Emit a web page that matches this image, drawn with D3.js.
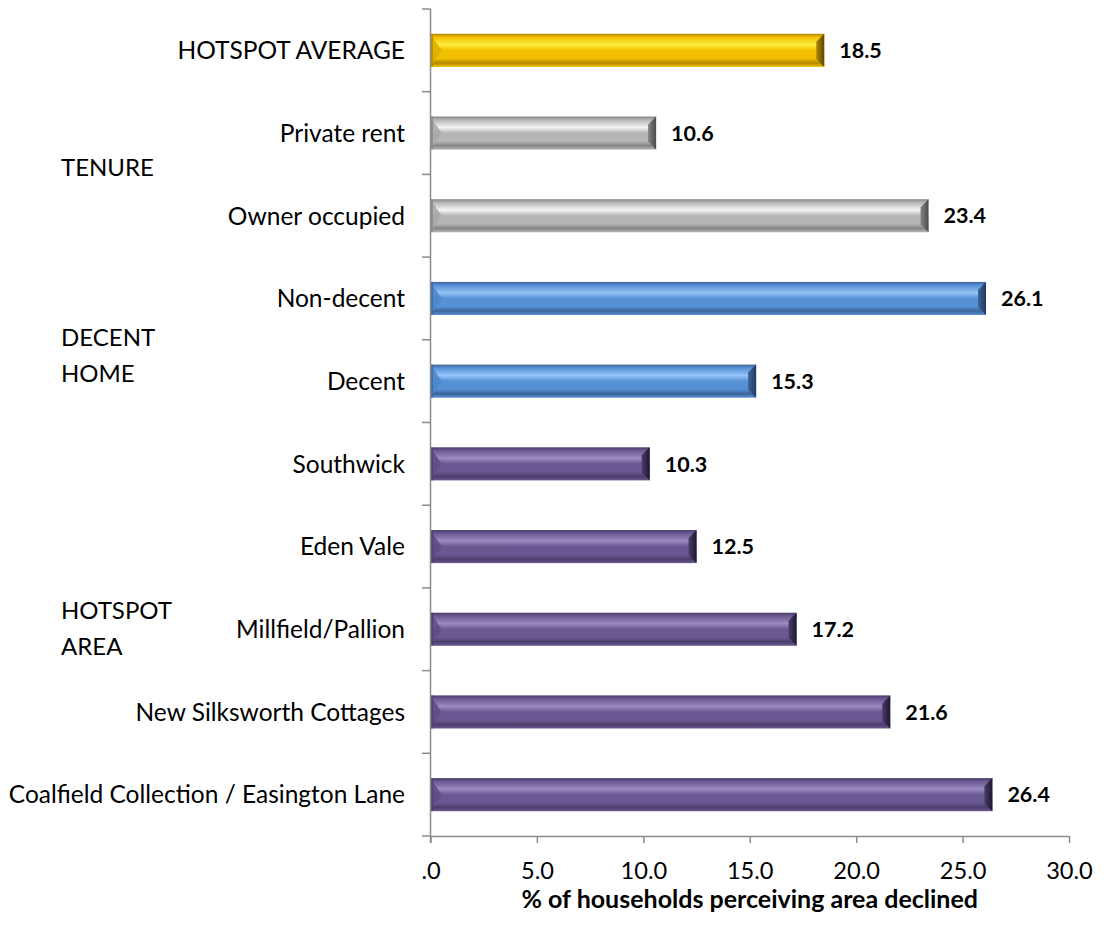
<!DOCTYPE html>
<html><head><meta charset="utf-8">
<script src="https://cdn.jsdelivr.net/npm/d3@7"></script>
<style>body{margin:0;background:#fff;}svg{display:block;}</style>
</head><body>
<script>
const categories = ["HOTSPOT AVERAGE","Private rent","Owner occupied","Non-decent","Decent","Southwick","Eden Vale","Millfield/Pallion","New Silksworth Cottages","Coalfield Collection / Easington Lane"];
const values = [18.5,10.6,23.4,26.1,15.3,10.3,12.5,17.2,21.6,26.4];
const groups = ["avg","tenure","tenure","decent","decent","area","area","area","area","area"];
const xTicks = [0,5,10,15,20,25,30];
const groupLabels = [
  {lines:["TENURE"], baseline:[176]},
  {lines:["DECENT","HOME"], baseline:[346,382]},
  {lines:["HOTSPOT","AREA"], baseline:[619,655]}
];
const xTitle = "% of households perceiving area declined";

(function(){
const FONT="Lato, 'Open Sans', sans-serif";
const W=1104,H=927;
const svg=d3.select("body").append("svg").attr("width",W).attr("height",H);
const yTop=9,yBottom=836;
const x=d3.scaleLinear().domain([0,30]).range([430.5,1069]);
const y=d3.scaleBand().domain(categories).range([yTop,yBottom]).paddingInner(0.6).paddingOuter(0.3);

const palette={
  avg:{base:"#F2C000",light:"#FFEE40",dark:"#B08800",edge:"#5E4600",lb:"#E0AE00"},
  tenure:{base:"#B5B5B5",light:"#F4F4F4",dark:"#858585",edge:"#4A4A4A",lb:"#A8A8A8"},
  decent:{base:"#5690D5",light:"#95C4F6",dark:"#3E6499",edge:"#1F3A62",lb:"#4C86CC"},
  area:{base:"#6A5892",light:"#9C8AC2",dark:"#4A3D6A",edge:"#1E1630",lb:"#5E4D86"}
};
const defs=svg.append("defs");
Object.entries(palette).forEach(([k,c])=>{
  const g=defs.append("linearGradient").attr("id","g-"+k).attr("x1",0).attr("y1",0).attr("x2",0).attr("y2",1);
  [[0,c.dark],[0.1,c.base],[0.33,c.light],[0.5,c.base],[0.75,c.base],[0.88,c.dark],[1,c.base]].forEach(([o,col])=>g.append("stop").attr("offset",o).attr("stop-color",col));
  const r=defs.append("linearGradient").attr("id","r-"+k).attr("x1",0).attr("y1",0).attr("x2",1).attr("y2",0);
  r.append("stop").attr("offset",0).attr("stop-color",c.dark);
  r.append("stop").attr("offset",1).attr("stop-color",c.edge);
});

const bh=y.bandwidth();
const bars=svg.append("g").selectAll("g").data(categories).join("g");
bars.append("rect").attr("x",x(0)).attr("y",d=>y(d)).attr("width",(d,i)=>x(values[i])-x(0)).attr("height",bh)
  .attr("fill",(d,i)=>`url(#g-${groups[i]})`);
// right bevel
bars.append("path").attr("d",(d,i)=>{const x1=x(values[i]),y0=y(d),b=8;return `M${x1-b},${y0+b}L${x1},${y0}L${x1},${y0+bh}L${x1-b},${y0+bh-b}Z`;})
  .attr("fill",(d,i)=>`url(#r-${groups[i]})`);
// left bevel
bars.append("path").attr("d",(d,i)=>{const x0=x(0),y0=y(d),b=11;return `M${x0},${y0}L${x0+b},${y0+bh/2}L${x0},${y0+bh}Z`;})
  .attr("fill",(d,i)=>palette[groups[i]].lb).attr("opacity",0.9);
bars.append("rect").attr("x",x(0)).attr("y",d=>y(d)).attr("width",2.5).attr("height",bh)
  .attr("fill",(d,i)=>palette[groups[i]].dark).attr("opacity",0.7);
bars.append("text").attr("x",(d,i)=>x(values[i])+15).attr("y",d=>y(d)+bh/2).attr("dy","0.36em")
  .attr("font-family",FONT).attr("font-weight","bold").attr("font-size",21.5).attr("fill","#000")
  .text((d,i)=>values[i].toFixed(1));

// y axis
const AX="#8C8C8C";
const yAxis=svg.append("g");
yAxis.append("line").attr("x1",x(0)).attr("x2",x(0)).attr("y1",yTop).attr("y2",yBottom+7).attr("stroke",AX).attr("stroke-width",1.5);
const step=(yBottom-yTop)/categories.length;
const bounds=d3.range(categories.length+1).map(i=>yTop+i*step);
yAxis.selectAll("line.t").data(bounds).join("line").attr("class","t").attr("x1",x(0)-8.5).attr("x2",x(0)).attr("y1",d=>d).attr("y2",d=>d).attr("stroke",AX).attr("stroke-width",1.5);
yAxis.selectAll("text").data(categories).join("text").attr("x",405).attr("y",d=>y(d)+bh/2).attr("dy","0.36em").attr("text-anchor","end")
  .attr("font-family",FONT).attr("font-size",24.5).attr("fill","#000").text(d=>d);

// x axis
const xAxis=svg.append("g").attr("transform",`translate(0,${yBottom})`).call(d3.axisBottom(x).tickValues(xTicks).tickSize(7).tickSizeOuter(0).tickFormat(d=>d===0?".0":d3.format(".1f")(d)));
xAxis.select(".domain").attr("stroke",AX).attr("stroke-width",1.5);
xAxis.selectAll(".tick line").attr("stroke",AX).attr("stroke-width",1.5);
xAxis.selectAll(".tick text").attr("font-family",FONT).attr("font-size",23.6).attr("fill","#000").attr("y",43).attr("dy",0);
svg.append("text").attr("x",x(15)).attr("y",908).attr("text-anchor","middle").attr("font-family",FONT)
  .attr("font-weight","bold").attr("font-size",25).attr("fill","#000").text(xTitle);

// group labels
groupLabels.forEach(g=>{
  g.lines.forEach((t,j)=>svg.append("text").attr("x",61).attr("y",g.baseline[j])
    .attr("font-family",FONT).attr("font-size",24).attr("fill","#000").text(t));
});
})();
</script>
</body></html>
